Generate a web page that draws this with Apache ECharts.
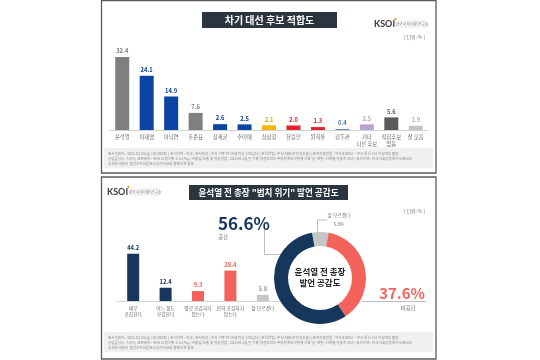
<!DOCTYPE html>
<html><head><meta charset="utf-8">
<script src="https://cdn.jsdelivr.net/npm/echarts@6/dist/echarts.min.js"></script>
<style>html,body{margin:0;padding:0;background:#fff}#c{width:540px;height:360px}</style>
</head><body><div id="c"></div>
<script>
// ---- data ----
const candNames = ['윤석열','이재명','이낙연','홍준표','정세균','추미애','심상정','유승민','원희룡','김두관','기타\n다른 후보','적합후보\n없음','잘 모름'];
const candValues = [32.4, 24.1, 14.9, 7.6, 2.6, 2.5, 2.1, 2.0, 1.3, 0.4, 2.5, 5.6, 1.9];
const agreeNames = ['매우\n공감한다','어느 정도\n공감한다','별로 공감하지\n않는다','전혀 공감하지\n않는다','잘 모르겠다'];
const agreeValues = [44.2, 12.4, 9.3, 28.4, 5.8];
const donutNames = ['잘 모르겠다','비공감','공감'];
const donutValues = [5.8, 37.6, 56.6];
const title1 = '차기 대선 후보 적합도';
const title2 = '윤석열 전 총장 "법치 위기" 발언 공감도';

// ---- styles ----
const candColors = ['#7f7f7f','#0b44a3','#0b44a3','#7f7f7f','#0b44a3','#0b44a3','#f5b800','#e3202b','#e3202b','#4f7db3','#b9a3cc','#5a5a5a','#c4c4c4'];
const candLabelColors = ['#7f7f7f','#0b44a3','#0b44a3','#7f7f7f','#0b44a3','#0b44a3','#e8a400','#e3202b','#e3202b','#4f7db3','#b9a3cc','#5a5a5a','#b0b0b0'];
const agreeColors = ['#16365c','#16365c','#f4625c','#f4625c','#c6c6c6'];
const donutColors = ['#c6c6c6','#f4625c','#16365c'];
const FF = '"Noto Sans CJK KR","Noto Sans",sans-serif';

const chart = echarts.init(document.getElementById('c'), null, {renderer:'canvas'});

const foot = [
 '조사의뢰자 : 2021.03.05(금)~03.06(토) | 조사지역 : 전국 | 조사대상 : 전국 거주 만 18세 이상 성인남녀 | 조사방법 : 무선 ARS(무작위추출) | 표본추출방법 : 무선(100%) – 무선 통신 3사 가상번호 활용',
 '응답률(%) : 7.8% | 표본오차 : 95% 신뢰수준 ±3.1%p | 가중값 산출 및 적용방법 : 2021년 2월 말 기준 행정안전부 주민등록인구통계 기준 성·연령·지역별 가중치 부여 | 조사기관 : 한국사회여론연구소(KSOI)',
 '상세한 내용은 중앙선거여론조사심의위원회 홈페이지 참조'
];

function footBlock(y0){
  const els = [{type:'rect', shape:{x:104,y:y0,width:329,height:20}, style:{fill:'#f0f0f0'}, silent:true}];
  foot.forEach((t,i)=>els.push({type:'text', x:108, y:y0+4+i*5, style:{text:t, fontSize:3.6, fill:'#8a8a8a', fontFamily:FF}, silent:true}));
  return els;
}
function logo(x,y){
  return [
    {type:'text', x:x, y:y, style:{text:'KSOI', fontSize:9, fontWeight:'bold', fill:'#3a3a3a', fontFamily:'Lato,"DejaVu Sans",sans-serif', textVerticalAlign:'middle'}},
    {type:'circle', shape:{cx:x+21.5, cy:y-5, r:1.2}, style:{fill:'#f39a1e'}},
    {type:'rect', shape:{x:x+24, y:y-3, width:28, height:6}, style:{fill:'none', stroke:'#cfcfcf', lineWidth:0.5}},
    {type:'text', x:x+38, y:y, style:{text:'한국사회여론연구소', fontSize:4, fill:'#777', fontFamily:FF, textAlign:'center', textVerticalAlign:'middle'}}
  ];
}

const graphics = [
  // panel frames
  {type:'rect', shape:{x:101.5,y:0.5,width:334.5,height:172.5}, style:{fill:'none', stroke:'#5c5c5c', lineWidth:1.3}, silent:true, z:-1},
  {type:'rect', shape:{x:101.5,y:177,width:334.5,height:182}, style:{fill:'none', stroke:'#5c5c5c', lineWidth:1.3}, silent:true, z:-1},
  // titles
  {type:'rect', shape:{x:202,y:12,width:135,height:16}, style:{fill:'#2b3540'}},
  {type:'text', x:269.5, y:20, style:{text:title1, fontSize:10, fontWeight:'bold', fill:'#fff', fontFamily:FF, textAlign:'center', textVerticalAlign:'middle'}},
  {type:'rect', shape:{x:189,y:185,width:159,height:15}, style:{fill:'#2b3540'}},
  {type:'text', x:268.5, y:192.5, style:{text:title2, fontSize:8.6, fontWeight:'bold', fill:'#fff', fontFamily:FF, textAlign:'center', textVerticalAlign:'middle'}},
  // units
  {type:'text', x:425, y:37, style:{text:'[ 단위: % ]', fontSize:4.8, fill:'#777', fontFamily:FF, textAlign:'right', textVerticalAlign:'middle'}},
  {type:'text', x:425, y:211, style:{text:'[ 단위: % ]', fontSize:4.8, fill:'#777', fontFamily:FF, textAlign:'right', textVerticalAlign:'middle'}},
  ...logo(374,24),
  ...logo(107,192),
  ...footBlock(148),
  ...footBlock(332),
  // donut callouts
  {type:'text', x:218, y:224, style:{text: donutValues[2].toFixed(1)+'%', fontSize:17, fontWeight:'bold', fill:'#16365c', fontFamily:FF, textVerticalAlign:'middle'}},
  {type:'text', x:218, y:237, style:{text: donutNames[2], fontSize:5.5, fill:'#777', fontFamily:FF, textVerticalAlign:'middle'}},
  {type:'polyline', shape:{points:[[264.5,229],[264.5,254.5],[281,254.5]]}, style:{stroke:'#a0a0a0', lineWidth:0.7, fill:'none'}},
  {type:'text', x:425, y:293.5, style:{text: donutValues[1].toFixed(1)+'%', fontSize:15, fontWeight:'bold', fill:'#f4625c', fontFamily:FF, textAlign:'right', textVerticalAlign:'middle'}},
  {type:'text', x:408, y:308, style:{text: donutNames[1], fontSize:5.5, fill:'#777', fontFamily:FF, textAlign:'center', textVerticalAlign:'middle'}},
  {type:'polyline', shape:{points:[[362,301.5],[426,301.5]]}, style:{stroke:'#a0a0a0', lineWidth:0.7, fill:'none'}},
  {type:'text', x:339, y:215, style:{text: donutNames[0], fontSize:4.8, fill:'#777', fontFamily:FF, textAlign:'center', textVerticalAlign:'middle'}},
  {type:'text', x:339, y:224, style:{text: donutValues[0].toFixed(1)+'%', fontSize:4.8, fill:'#777', fontFamily:FF, textAlign:'center', textVerticalAlign:'middle'}},
  {type:'polyline', shape:{points:[[317.5,234],[317.5,220],[327,220]]}, style:{stroke:'#a0a0a0', lineWidth:0.7, fill:'none'}},
  // donut center text
  {type:'text', x:320, y:272, style:{text:'윤석열 전 총장', fontSize:8.5, fontWeight:'bold', fill:'#222', fontFamily:FF, textAlign:'center', textVerticalAlign:'middle'}, z:10},
  {type:'text', x:320, y:283, style:{text:'발언 공감도', fontSize:8.5, fontWeight:'bold', fill:'#222', fontFamily:FF, textAlign:'center', textVerticalAlign:'middle'}, z:10}
];

const option = {
  animation:false,
  backgroundColor:'#fff',
  textStyle:{fontFamily:FF},
  grid:[
    {left:110, width:318, top:49, height:81},
    {left:117, width:162, top:247.5, height:53.5}
  ],
  xAxis:[
    {type:'category', gridIndex:0, data:candNames, axisTick:{show:false},
     axisLine:{lineStyle:{color:'#c8c8c8', width:0.8}},
     axisLabel:{interval:0, fontSize:5.3, color:'#6a6a6a', margin:4, lineHeight:6.5, fontFamily:FF}},
    {type:'category', gridIndex:1, data:agreeNames, axisTick:{show:false},
     axisLine:{lineStyle:{color:'#c8c8c8', width:0.8}},
     axisLabel:{interval:0, fontSize:4.8, color:'#6a6a6a', margin:4, lineHeight:6, fontFamily:FF}}
  ],
  yAxis:[
    {type:'value', gridIndex:0, min:0, max:36, show:false, splitLine:{show:false}},
    {type:'value', gridIndex:1, min:0, max:50, show:false, splitLine:{show:false}}
  ],
  series:[
    {type:'bar', xAxisIndex:0, yAxisIndex:0, barWidth:14,
     data:candValues.map((v,i)=>({value:v, itemStyle:{color:candColors[i]}, label:{color:candLabelColors[i]}})),
     label:{show:true, position:'top', distance:3, fontSize:5.8, fontWeight:'bold', fontFamily:FF, formatter:p=>p.value.toFixed(1)}},
    {type:'bar', xAxisIndex:1, yAxisIndex:1, barWidth:12,
     data:agreeValues.map((v,i)=>({value:v, itemStyle:{color:agreeColors[i]}, label:{color:agreeColors[i]==='#c6c6c6'?'#9a9a9a':agreeColors[i]}})),
     label:{show:true, position:'top', distance:3, fontSize:5.8, fontWeight:'bold', fontFamily:FF, formatter:p=>p.value.toFixed(1)}},
    {type:'pie', center:[320,278], radius:[32,46], startAngle:100, clockwise:true, silent:true,
     label:{show:false}, labelLine:{show:false},
     data:donutValues.map((v,i)=>({value:v, name:donutNames[i], itemStyle:{color:donutColors[i]}}))}
  ],
  graphic:graphics
};
chart.setOption(option);
</script>
</body></html>
